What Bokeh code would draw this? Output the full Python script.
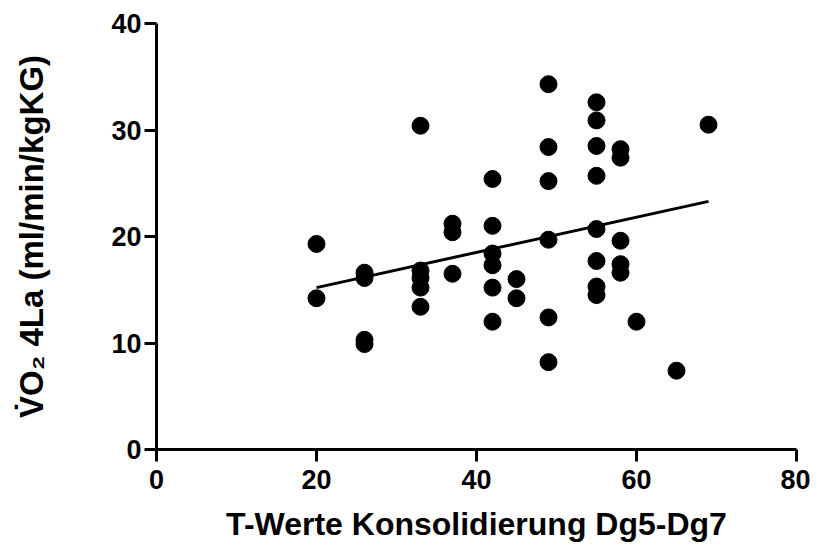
from bokeh.plotting import figure
from bokeh.models import Range1d, FixedTicker
from bokeh.embed import file_html
from bokeh.resources import INLINE

# data
t_values = [20, 20, 26, 26, 26, 26, 33, 33, 33, 33, 33, 37, 37, 37,
            42, 42, 42, 42, 42, 42, 45, 45,
            49, 49, 49, 49, 49, 49,
            55, 55, 55, 55, 55, 55, 55, 55,
            58, 58, 58, 58, 58, 60, 65, 69]
vo2_values = [19.3, 14.2, 16.6, 16.1, 10.3, 9.9, 30.4, 16.8, 16.1, 15.2, 13.4, 21.2, 20.4, 16.5,
              25.4, 21.0, 18.4, 17.3, 15.2, 12.0, 16.0, 14.2,
              34.3, 28.4, 25.2, 19.7, 12.4, 8.2,
              32.6, 30.9, 28.5, 25.7, 20.7, 17.7, 15.3, 14.5,
              28.2, 27.4, 19.6, 17.4, 16.6, 12.0, 7.4, 30.5]
fit_x = [20, 69]
fit_y = [15.2, 23.3]
x_ticks = [0, 20, 40, 60, 80]
y_ticks = [0, 10, 20, 30, 40]

p = figure(width=810, height=548, output_backend="svg", toolbar_location=None,
           x_range=Range1d(0, 80), y_range=Range1d(0, 40),
           min_border_left=156, min_border_right=14, min_border_top=23, min_border_bottom=99)
p.outline_line_color = None
p.grid.visible = False
p.background_fill_color = "white"

p.line(fit_x, fit_y, line_color="black", line_width=3)
p.scatter(t_values, vo2_values, size=17, color="black")

font = "Liberation Sans"
for ax in (p.xaxis[0], p.yaxis[0]):
    ax.axis_line_width = 3
    ax.axis_line_color = "black"
    ax.major_tick_line_width = 3
    ax.major_tick_line_color = "black"
    ax.major_tick_out = 12
    ax.major_tick_in = 0
    ax.minor_tick_line_color = None
    ax.major_label_text_font = font
    ax.major_label_text_font_style = "bold"
    ax.major_label_text_font_size = "27px"
    ax.major_label_text_color = "black"
    ax.axis_label_text_font = font
    ax.axis_label_text_font_style = "bold"
    ax.axis_label_text_color = "black"

p.xaxis.ticker = FixedTicker(ticks=x_ticks)
p.yaxis.ticker = FixedTicker(ticks=y_ticks)
p.xaxis.major_label_standoff = 8
p.yaxis.major_label_standoff = 3
p.xaxis.axis_label = "T-Werte Konsolidierung Dg5-Dg7"
p.yaxis.axis_label = "V\u0307O\u2082 4La (ml/min/kgKG)"
p.xaxis.axis_label_text_font_size = "32px"
p.yaxis.axis_label_text_font_size = "33px"
p.xaxis.axis_label_standoff = 14
p.yaxis.axis_label_standoff = 58

open("out.html", "w").write(file_html(p, INLINE))
